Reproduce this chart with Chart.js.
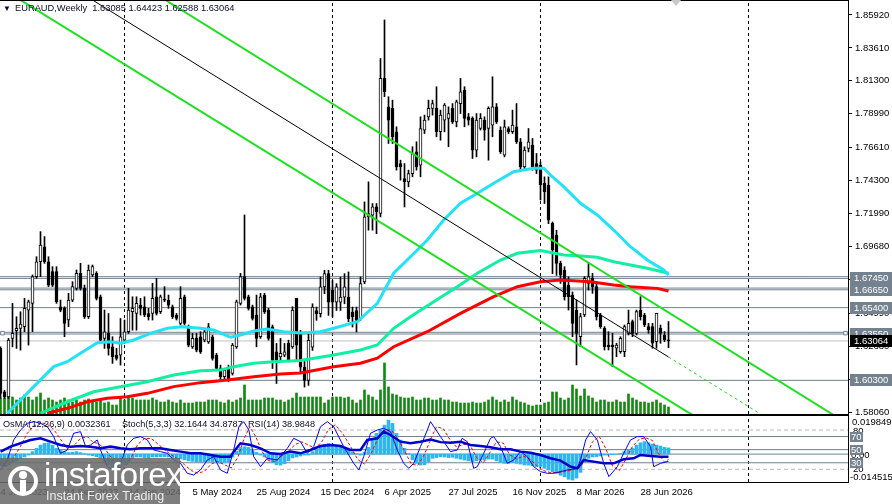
<!DOCTYPE html>
<html>
<head>
<meta charset="utf-8">
<title>EURAUD Weekly</title>
<script src="https://cdn.jsdelivr.net/npm/chart.js@4.4.1/dist/chart.umd.min.js"></script>
<style>
  body { margin: 0; background: #fff; }
  #wrap { position: relative; width: 892px; height: 504px; overflow: hidden; font-family: "Liberation Sans", Arial, sans-serif; }
  canvas { position: absolute; left: 0; }
  #mainChart { top: 0; }
  #oscChart { top: 415px; }
  .txt { position: absolute; font-size: 9.3px; color: #0a0a28; white-space: pre; line-height: 11px; }
  #logo { position: absolute; left: 0; top: 458px; width: 180px; height: 46px; background: rgba(105,105,105,0.86); color: #fff; }
  #logo .big { position: absolute; left: 44px; top: -2px; font-size: 33px; letter-spacing: -0.5px; line-height: 38px; }
  #logo .small { position: absolute; left: 46px; top: 31px; font-size: 12.5px; line-height: 14px; color: #eee; }
  #logo svg { position: absolute; left: 6px; top: 6px; }
  #shift { position: absolute; left: 671px; top: 0; width: 0; height: 0; border-left: 5px solid transparent; border-right: 5px solid transparent; border-top: 6px solid #c8c8c8; }
</style>
</head>
<body>
<div id="wrap">
  <canvas id="mainChart" width="892" height="416"></canvas>
  <canvas id="oscChart" width="892" height="89"></canvas>
  <div class="txt" style="left:3px;top:3px;font-size:8px">▼</div>
  <div class="txt" style="left:15px;top:3px">EURAUD,Weekly  1.63085 1.64423 1.62588 1.63064</div>
  <div class="txt" style="left:3px;top:419px;font-size:9.15px">OsMA(12,26,9) 0.0032361</div>
  <div class="txt" style="left:122px;top:419px;font-size:9.15px">Stoch(5,3,3) 32.1644 34.8787</div>
  <div class="txt" style="left:248px;top:419px;font-size:9.15px">RSI(14) 38.9848</div>
  <div id="shift"></div>
  <div id="logo">
    <svg width="34" height="34" viewBox="0 0 34 34"><circle cx="17" cy="17" r="13" fill="none" stroke="#fff" stroke-width="4"/><circle cx="17" cy="11" r="4" fill="#fff"/><rect x="14" y="16" width="6" height="12" fill="#fff"/></svg>
    <div class="big">instaforex</div>
    <div class="small">Instant Forex Trading</div>
  </div>
</div>
<script>
// weekly candles, bar 0 = week of 4 Jun 2023
const opens = [
  1.6254,1.5950,1.5914,1.6324,1.6378,1.6394,1.6406,1.6523,1.6570,1.6757,
  1.6862,1.6967,1.6862,1.6792,1.6792,1.6546,1.6535,1.6453,1.6593,1.6675,
  1.6780,1.6675,1.6476,1.6769,1.6780,1.6616,1.6324,1.6359,1.6265,1.6207,
  1.6207,1.6312,1.6371,1.6511,1.6499,1.6558,1.6546,1.6499,1.6499,1.6616,
  1.6511,1.6600,1.6593,1.6546,1.6488,1.6429,1.6616,1.6394,1.6265,1.6324,
  1.6336,1.6312,1.6300,1.6336,1.6207,1.6113,1.6055,1.6113,1.6078,1.6265,
  1.6570,1.6757,1.6616,1.6546,1.6488,1.6336,1.6628,1.6523,1.6406,1.6230,
  1.6195,1.6207,1.6289,1.6265,1.6605,1.6357,1.6123,1.6029,1.6263,1.6520,
  1.6497,1.6685,1.6778,1.6661,1.6579,1.6579,1.6614,1.6614,1.6509,1.6520,
  1.6462,1.6720,1.7176,1.7188,1.7246,1.7200,1.8147,1.7948,1.7937,1.7773,
  1.7550,1.7445,1.7422,1.7480,1.7632,1.7539,1.7785,1.7878,1.7937,1.7937,
  1.7773,1.7855,1.7867,1.7937,1.7843,1.7971,1.8066,1.7878,1.7867,1.7644,
  1.7796,1.7855,1.7796,1.7820,1.7948,1.7785,1.7609,1.7796,1.7773,1.7808,
  1.7703,1.7527,1.7656,1.7680,1.7550,1.7540,1.7411,1.7400,1.7131,1.7049,
  1.6850,1.6803,1.6698,1.6628,1.6523,1.6336,1.6488,1.6710,1.6745,1.6687,
  1.6488,1.6395,1.6278,1.6278,1.6255,1.6231,1.6231,1.6360,1.6442,1.6360,
  1.6523,1.6488,1.6407,1.6407,1.6301,1.6395,1.6348,1.63085
];
const highs = [
  1.6265,1.5961,1.6324,1.6570,1.6476,1.6511,1.6605,1.6593,1.6769,1.6897,
  1.7073,1.7038,1.6897,1.6827,1.6827,1.6593,1.6546,1.6640,1.6722,1.6804,
  1.6851,1.6698,1.6839,1.6839,1.6792,1.6628,1.6523,1.6499,1.6336,1.6254,
  1.6464,1.6453,1.6675,1.6616,1.6616,1.6605,1.6616,1.6535,1.6710,1.6745,
  1.6628,1.6687,1.6628,1.6558,1.6499,1.6687,1.6628,1.6418,1.6359,1.6359,
  1.6371,1.6394,1.6429,1.6347,1.6219,1.6137,1.6113,1.6137,1.6289,1.6593,
  1.6780,1.7190,1.6628,1.6558,1.6628,1.6640,1.6640,1.6535,1.6418,1.6289,
  1.6324,1.6289,1.6312,1.6546,1.6605,1.6380,1.6170,1.6357,1.6567,1.6544,
  1.6755,1.6802,1.6802,1.6731,1.6708,1.6755,1.6778,1.6790,1.6544,1.6544,
  1.6755,1.7281,1.7422,1.7270,1.7270,1.8287,1.8557,1.8019,1.7995,1.7808,
  1.7574,1.7550,1.7504,1.7668,1.7703,1.7878,1.7890,1.7995,1.7995,1.8089,
  1.7925,1.7971,1.7948,1.7971,1.7995,1.8147,1.8089,1.7901,1.7878,1.7901,
  1.7901,1.7878,1.7948,1.8159,1.7971,1.7808,1.7855,1.7808,1.7925,1.7971,
  1.7726,1.7668,1.7796,1.7726,1.7621,1.7562,1.7457,1.7457,1.7141,1.7083,
  1.6866,1.6827,1.6756,1.6650,1.6593,1.6500,1.6757,1.6850,1.6780,1.6710,
  1.6500,1.6407,1.6371,1.6360,1.6290,1.6336,1.6418,1.6523,1.6453,1.6523,
  1.6617,1.6500,1.6430,1.6430,1.6500,1.6418,1.6372,1.64423
];
const lows = [
  1.5903,1.5903,1.5903,1.6265,1.6254,1.6242,1.6371,1.6277,1.6371,1.6745,
  1.6757,1.6850,1.6687,1.6687,1.6570,1.6511,1.6336,1.6406,1.6581,1.6663,
  1.6663,1.6464,1.6464,1.6757,1.6593,1.6300,1.6254,1.6207,1.6149,1.6172,
  1.6137,1.6289,1.6359,1.6382,1.6382,1.6488,1.6476,1.6453,1.6453,1.6488,
  1.6499,1.6581,1.6535,1.6464,1.6453,1.6418,1.6418,1.6265,1.6254,1.6230,
  1.6219,1.6300,1.6289,1.6172,1.6102,1.6031,1.6031,1.6020,1.6067,1.6254,
  1.6558,1.6593,1.6523,1.6453,1.6265,1.6324,1.6499,1.6312,1.6113,1.6008,
  1.6172,1.6195,1.6160,1.6254,1.6172,1.6076,1.5983,1.5995,1.6240,1.6451,
  1.6474,1.6638,1.6486,1.6474,1.6520,1.6520,1.6567,1.6440,1.6404,1.6369,
  1.6451,1.6708,1.7083,1.7083,1.7059,1.7176,1.8019,1.7691,1.7691,1.7504,
  1.7434,1.7246,1.7387,1.7457,1.7504,1.7457,1.7761,1.7855,1.7890,1.7738,
  1.7714,1.7773,1.7668,1.7831,1.7808,1.7901,1.7808,1.7820,1.7586,1.7597,
  1.7785,1.7714,1.7574,1.7738,1.7831,1.7621,1.7597,1.7761,1.7761,1.7691,
  1.7504,1.7504,1.7632,1.7504,1.7480,1.7295,1.7270,1.7129,1.6778,1.6766,
  1.6710,1.6593,1.6523,1.6336,1.6138,1.6266,1.6477,1.6663,1.6640,1.6453,
  1.6395,1.6243,1.6243,1.6126,1.6196,1.6220,1.6196,1.6348,1.6336,1.6348,
  1.6453,1.6407,1.6360,1.6255,1.6255,1.6290,1.6301,1.62588
];
const closes = [
  1.5938,1.5914,1.6312,1.6359,1.6394,1.6425,1.6535,1.6581,1.6757,1.6862,
  1.6979,1.6862,1.6698,1.6698,1.6581,1.6523,1.6429,1.6593,1.6687,1.6780,
  1.6675,1.6476,1.6804,1.6827,1.6605,1.6312,1.6371,1.6254,1.6195,1.6184,
  1.6336,1.6371,1.6523,1.6535,1.6570,1.6535,1.6488,1.6476,1.6605,1.6499,
  1.6616,1.6593,1.6558,1.6476,1.6464,1.6605,1.6429,1.6277,1.6324,1.6242,
  1.6230,1.6371,1.6406,1.6184,1.6113,1.6055,1.6102,1.6031,1.6277,1.6581,
  1.6757,1.6605,1.6535,1.6464,1.6324,1.6616,1.6511,1.6324,1.6172,1.6172,
  1.6219,1.6230,1.6172,1.6523,1.6277,1.6123,1.6029,1.6310,1.6544,1.6497,
  1.6685,1.6778,1.6579,1.6579,1.6685,1.6614,1.6685,1.6462,1.6474,1.6451,
  1.6708,1.7176,1.7200,1.7246,1.7211,1.8147,1.8054,1.7855,1.7738,1.7527,
  1.7527,1.7422,1.7480,1.7621,1.7527,1.7796,1.7855,1.7937,1.7971,1.7773,
  1.7890,1.7960,1.7901,1.7843,1.7983,1.8054,1.7867,1.7855,1.7644,1.7855,
  1.7867,1.7785,1.7937,1.7948,1.7843,1.7632,1.7808,1.7773,1.7820,1.7703,
  1.7527,1.7644,1.7703,1.7527,1.7504,1.7400,1.7353,1.7154,1.6944,1.6850,
  1.6768,1.6616,1.6616,1.6430,1.6360,1.6477,1.6745,1.6757,1.6687,1.6477,
  1.6406,1.6266,1.6266,1.6266,1.6278,1.6325,1.6407,1.6430,1.6360,1.6512,
  1.6477,1.6418,1.6383,1.6290,1.6500,1.6360,1.6313,1.63064
];
// tick volume, thousands
const volumesK = [
  16,16,17,17,14,16,19,17,14,17, 21,14,16,14,12,14,16,14,12,14,
  12,14,15,13,12,14,11,12,9,9,   16,14,17,16,14,14,14,14,16,14,
  12,12,14,12,11,14,11,11,11,12, 12,12,14,14,14,12,11,14,12,14,
  16,29,14,14,14,14,16,16,16,14, 14,12,14,16,21,17,17,17,17,17,
  17,11,14,17,17,17,16,17,14,11, 14,24,19,17,14,24,51,27,20,19,
  17,16,16,17,14,14,16,16,14,14, 16,14,14,12,12,11,11,11,12,11,
  11,12,14,17,14,12,14,12,17,14, 12,11,9,8,9,9,11,12,22,22,
  16,14,16,29,25,18,25,18,16,12, 14,14,12,12,14,12,12,20,16,14,
  12,12,11,12,14,11,9,7
];
// moving averages, [bar, price]
const maFast = [[1.7,1.5799],[5,1.5892],[8.3,1.5986],[10.8,1.6056],[13.3,1.6126],[16.7,1.6161],[20,1.6220],[24.2,1.6294],[27.5,1.6301],[30,1.6290],[33.3,1.6313],[37.5,1.6360],[41.7,1.6395],[45.4,1.6406],[50,1.6395],[53.3,1.6383],[57.5,1.6332],[60,1.6348],[63.3,1.6376],[66.7,1.6390],[70.8,1.6371],[75,1.6362],[80,1.6371],[83.3,1.6395],[89.2,1.6441],[94.2,1.6570],[98.3,1.6781],[102.5,1.6897],[106.7,1.7014],[110.8,1.7154],[115,1.7272],[119.2,1.7342],[123.3,1.7412],[128.3,1.7493],[133.3,1.7517],[135.8,1.7517],[137.5,1.7470],[140.8,1.7388],[145,1.7272],[149.2,1.7190],[153.3,1.7084],[157.5,1.6967],[161.7,1.6874],[165.8,1.6804],[167,1.6769]];
const maMid = [[10,1.5799],[16.7,1.5880],[23.3,1.5950],[30,1.5985],[36.7,1.6020],[43.3,1.6067],[50,1.6098],[55,1.6103],[58.3,1.6126],[63.3,1.6150],[68.3,1.6161],[75,1.6169],[83.3,1.6208],[90,1.6243],[94.2,1.6278],[98.3,1.6395],[102.5,1.6476],[108.3,1.6582],[114.2,1.6687],[119.2,1.6781],[125,1.6874],[129.2,1.6921],[135,1.6941],[140.8,1.6909],[145,1.6902],[149.2,1.6893],[153.3,1.6862],[157.5,1.6839],[161.7,1.6816],[167,1.6781]];
const maSlow = [[11.7,1.5799],[16.7,1.5834],[21.7,1.5880],[26.7,1.5904],[31.7,1.5915],[36.7,1.5939],[43.3,1.5986],[50,1.6014],[56.7,1.6033],[63.3,1.6056],[70,1.6075],[75,1.6082],[83.3,1.6126],[90,1.6150],[94.2,1.6185],[98.3,1.6266],[106.7,1.6371],[115,1.6500],[123.3,1.6617],[129.2,1.6687],[135,1.6722],[140,1.6734],[147.5,1.6722],[153.3,1.6699],[157.5,1.6687],[164.2,1.6675],[167,1.6657]];
// drawn trend lines, [bar, price]
const channelLow = [[4,1.8714],[173,1.5787]];
const channelHigh = [[41,1.8701],[208,1.5792]];
const midLine = [[23,1.8697],[167,1.6194]];
const midLineExt = [[167,1.6194],[190,1.5794]];
const levelLines = [1.6757,1.6745,1.6677,1.6665,1.6540,1.6367,1.6355,1.6030];
const levelTags = [1.6745,1.6665,1.6540,1.6355,1.6030];
const anchorMarks = [[0.5,1.6361],[211.25,1.6361]];
const lastPrice = 1.63064;
const priceTicks = [1.8592,1.8361,1.8130,1.7899,1.7661,1.7430,1.7199,1.6968,1.6737,1.6499,1.6268,1.6037,1.5806];

// oscillators
const osma = [
  -0.0060,-0.0065,-0.0055,-0.0045,-0.0035,-0.0025,-0.0015,-0.0005,0.0013,0.0030,
  0.0047,0.0056,0.0059,0.0047,0.0030,0.0021,0.0013,0.0008,0.0010,0.0013,
  0.0008,0.0002,-0.0005,-0.0008,-0.0013,-0.0025,-0.0040,-0.0055,-0.0065,-0.0070,
  -0.0065,-0.0055,-0.0040,-0.0025,-0.0015,-0.0015,-0.0018,-0.0020,-0.0015,-0.0015,
  -0.0013,-0.0013,-0.0015,-0.0020,-0.0022,-0.0025,-0.0030,-0.0035,-0.0038,-0.0040,
  -0.0042,-0.0040,-0.0038,-0.0040,-0.0045,-0.0048,-0.0045,-0.0040,-0.0015,0.0015,
  0.0035,0.0039,0.0035,0.0025,0.0010,-0.0005,-0.0015,-0.0030,-0.0045,-0.0055,
  -0.0057,-0.0050,-0.0035,-0.0020,-0.0015,-0.0010,-0.0005,-0.0005,0.0013,0.0025,
  0.0040,0.0052,0.0056,0.0052,0.0047,0.0039,0.0030,0.0020,0.0010,0.0003,
  -0.0005,0.0010,0.0035,0.0073,0.0108,0.0125,0.0151,0.0177,0.0160,0.0108,
  0.0073,0.0030,0.0004,-0.0030,-0.0048,-0.0057,-0.0055,-0.0040,-0.0022,-0.0018,
  -0.0013,-0.0015,-0.0018,-0.0017,-0.0022,-0.0026,-0.0031,-0.0035,-0.0039,-0.0035,
  -0.0031,-0.0031,-0.0026,-0.0026,-0.0035,-0.0044,-0.0048,-0.0048,-0.0044,-0.0048,
  -0.0052,-0.0057,-0.0057,-0.0061,-0.0065,-0.0065,-0.0074,-0.0083,-0.0092,-0.0100,
  -0.0110,-0.0118,-0.0131,-0.0135,-0.0125,-0.0095,-0.0039,-0.0022,-0.0015,-0.0013,
  -0.0009,-0.0005,-0.0005,-0.0003,-0.0001,0.0004,0.0013,0.0021,0.0030,0.0047,
  0.0059,0.0065,0.0059,0.0052,0.0047,0.0042,0.0035,0.0032361
];
const stochMain = [[0,19],[1.7,34.2],[3.3,64.8],[5,80],[6.7,90.2],[8.3,92.8],[10,90.2],[11.7,85.1],[13.3,69.9],[15,44.4],[16.7,49.5],[18.3,75],[20,77.5],[21.3,54.6],[22.5,57.1],[24.2,64.8],[25,49.5],[26.7,24],[28.3,19],[30,29.1],[31.7,57.1],[33.3,67.3],[35,69.9],[36.7,64.8],[38.3,49.5],[40,47],[41.7,44.4],[43.3,34.2],[45,29.1],[46.7,13.9],[48.3,11.3],[50,19],[51.7,34.2],[53.3,39.3],[55,19],[56.7,13.9],[58.3,49.5],[59.6,85.1],[60.8,92.8],[62.1,80],[63.3,39.3],[65,24],[66.7,36.8],[69.2,34.2],[71.7,52],[73.3,67.3],[75,62.2],[76.7,44.4],[78.3,54.6],[80,85.1],[81.7,92.8],[83.3,85.1],[85.8,54.6],[88.3,29.1],[89.6,19],[90.8,39.3],[92.5,75],[94.2,80],[95.8,82.6],[97.5,77.5],[99.2,49.5],[100.8,29.1],[102.1,21.5],[103.3,29.1],[105,54.6],[106.7,80],[107.5,92.8],[110,69.9],[112.5,47],[114.2,49.5],[115.4,67.3],[116.7,62.2],[118.3,21.5],[119.2,24],[120.8,44.4],[122.5,67.3],[123.3,69.9],[125,54.6],[126.7,29.1],[128.3,34.2],[130,47],[131.7,39.3],[133.3,24],[135,16.4],[136.7,13.9],[138.3,13.9],[141.7,19],[144.2,21.5],[145,34.2],[146.3,64.8],[147.5,77.5],[149.2,64.8],[150.8,29.1],[152.1,8.8],[154.2,24],[155.8,44.4],[157.5,64.8],[159.2,69.9],[160.8,69.9],[162.5,54.6],[163.3,24],[165,29.1],[167,32.16]];
const stochSignal = [[0,30],[1.5,25],[3,35],[5,55],[6.7,75],[8.3,86],[10,91],[11.7,89],[13.3,81],[15,66],[16.7,52],[18.3,56],[20,67],[21.7,70],[23,62],[24.5,59],[26,52],[27.7,38],[29.3,23],[31,22],[32.7,38],[34.3,58],[36,67],[37.7,67],[39.3,59],[41,50],[42.7,42],[44.3,36],[46,27],[47.7,18],[49.3,14],[51,17],[52.7,28],[54.3,32],[56,27],[57.7,22],[59.3,38],[60.8,65],[62.3,85],[63.8,70],[65.3,48],[67,33],[68.7,32],[70.3,40],[72,48],[73.7,58],[75.3,62],[77,57],[78.7,52],[80.3,62],[82,81],[83.7,88],[85.5,75],[87.5,55],[89.3,35],[91,28],[92.7,45],[94.3,66],[96,80],[97.7,80],[99.3,67],[101,48],[102.7,28],[104.3,26],[106,43],[107.7,68],[109,85],[110.7,82],[112.3,66],[114,54],[115.7,58],[117.3,58],[119,38],[120.7,30],[122.3,45],[124,62],[125.7,60],[127.3,42],[129,36],[130.7,40],[132.3,36],[134,26],[135.7,18],[137.5,15],[140,15],[143,19],[145,23],[146.5,40],[148,62],[149.7,70],[151.3,52],[153,25],[154.7,18],[156.3,35],[158,55],[159.7,66],[161.3,68],[163,64],[164.5,44],[166,31],[167,34.88]];
const rsi = [[0,47],[2.5,54.6],[5,59.7],[7.5,64.8],[10,67.3],[12.5,62.2],[15,57.1],[17.5,54.6],[20,55.6],[22.5,54.6],[25,52],[27.5,54.6],[30,52],[32.5,50.5],[35,52],[40,52],[42.5,49.5],[45,47],[47.5,44.4],[50,44.4],[52.5,41.9],[55,39.3],[57.5,39.3],[58.3,47],[60,59.7],[62.5,57.1],[65,52],[67.5,44.4],[70,43.4],[72.5,47],[75,44.4],[77.5,49.5],[80,55.6],[82.5,57.1],[85,55.6],[87.5,49.5],[90,49.5],[91.7,64.8],[94.2,67.3],[95.8,77.5],[97.5,72.4],[100,62.2],[102.5,59.7],[105,62.2],[107.5,65.3],[110,61.5],[112.5,60.7],[115,62.2],[117.5,57.1],[120,55.6],[122.5,53.6],[125,50.5],[127.5,50.5],[130,47],[132.5,45.4],[135,41.9],[137.5,36.8],[140,33.2],[142.5,24],[144.2,21.5],[145.8,34.2],[148.3,31.7],[150.8,29.1],[153.3,29.1],[155.8,35.2],[158.3,36.8],[160,41.9],[162.5,40.3],[165,39.3],[167,38.98]];

const yearStarts = [31, 83, 135, 187];
const tickIndex = [0,16,32,48,64,80,96,112,128,144,160];
const tickLabels = ['4 Jun 2023','24 Sep 2023','14 Jan 2024','5 May 2024','25 Aug 2024','15 Dec 2024','6 Apr 2025','27 Jul 2025','16 Nov 2025','8 Mar 2026','28 Jun 2026'];

Chart.defaults.font.family = '"Liberation Sans", Arial, sans-serif';
Chart.defaults.font.size = 9.5;
Chart.defaults.color = '#000';

const X_MIN = -0.125, X_MAX = 211.875;
const P_MIN = 1.57941, P_MAX = 1.86971;
const GREEN = '#1fe01f';
const LEVEL = '#708090';

const pts = arr => arr.map(([x, y]) => ({x, y}));
const hlines = vals => vals.flatMap(v => [{x: X_MIN, y: v}, {x: X_MAX, y: v}, {x: X_MAX, y: null}]);
const vlines = (lo, hi) => yearStarts.flatMap(i => [{x: i, y: lo}, {x: i, y: hi}, {x: i, y: null}]);
const bars = closes.map((c, i) => i);

function lineDs(data, color, width, order, extra) {
  return Object.assign({type: 'line', data, borderColor: color, borderWidth: width, pointRadius: 0,
    tension: 0, spanGaps: false, order}, extra || {});
}

const frameA = {
  id: 'frameA',
  afterDraw(chart) {
    const {ctx, chartArea: a} = chart;
    ctx.save();
    ctx.fillStyle = '#000';
    ctx.fillRect(0, 0, a.right + 1, 1);
    ctx.fillRect(0, a.bottom, a.right + 1, 1);
    ctx.restore();
  }
};

const priceTags = {
  id: 'priceTags',
  afterDraw(chart) {
    const {ctx, scales: {y}} = chart;
    ctx.save();
    ctx.font = '9.5px "Liberation Sans", Arial, sans-serif';
    ctx.textBaseline = 'middle';
    const tag = (p, bg) => {
      const py = Math.round(y.getPixelForValue(p));
      ctx.fillStyle = bg;
      ctx.fillRect(850, py - 6, 42, 12);
      ctx.fillStyle = '#fff';
      ctx.fillText(p.toFixed(5), 854, py + 0.5);
    };
    levelTags.forEach(p => tag(p, '#74818f'));
    tag(lastPrice, '#000');
    ctx.restore();
  }
};

new Chart(document.getElementById('mainChart'), {
  type: 'bar',
  data: {
    datasets: [
      lineDs(pts(channelLow), GREEN, 2, 1),
      lineDs(pts(channelHigh), GREEN, 2, 1),
      lineDs(pts(midLine), '#000', 1, 1),
      lineDs(pts(midLineExt), GREEN, 1, 1, {borderDash: [3, 3]}),
      lineDs(pts(maFast), '#22e2f6', 3, 2),
      lineDs(pts(maMid), '#10f0a0', 3, 2),
      lineDs(pts(maSlow), '#ff0000', 3, 2),
      {
        type: 'bar', order: 3, grouped: false, barThickness: 3, minBarLength: 1,
        data: bars.map(i => ({x: i, y: [opens[i], closes[i]]})),
        backgroundColor: bars.map(i => closes[i] >= opens[i] ? '#ffffff' : '#000000'),
        borderColor: '#000', borderWidth: 1, borderSkipped: false
      },
      {
        type: 'bar', order: 4, grouped: false, barThickness: 1,
        data: bars.map(i => ({x: i, y: [lows[i], highs[i]]})),
        backgroundColor: '#000', borderWidth: 0
      },
      lineDs(pts(anchorMarks), 'transparent', 0, 5, {showLine: false, pointRadius: 2.5,
        pointStyle: 'rect', pointBackgroundColor: '#fff', pointBorderColor: LEVEL, pointBorderWidth: 1}),
      lineDs(hlines([lastPrice]), '#c0c0c0', 1, 5),
      lineDs(hlines(levelLines), LEVEL, 1, 6),
      {
        type: 'bar', order: 7, grouped: false, barThickness: 2, yAxisID: 'yv',
        data: volumesK.map((v, i) => ({x: i, y: v})),
        backgroundColor: '#138a13', borderWidth: 0
      },
      lineDs(vlines(P_MIN, P_MAX), '#000', 1, 8, {borderDash: [3, 3]})
    ]
  },
  options: {
    responsive: false,
    animation: false,
    events: [],
    layout: {autoPadding: false, padding: {top: 0, bottom: 2, left: 0, right: 0}},
    plugins: {legend: {display: false}, tooltip: {enabled: false}},
    scales: {
      x: {type: 'linear', min: X_MIN, max: X_MAX, offset: false, display: false},
      y: {
        position: 'right', min: P_MIN, max: P_MAX, bounds: 'data',
        afterBuildTicks: s => { s.ticks = priceTicks.map(v => ({value: v})); },
        afterFit: s => { s.width = 44; s.paddingTop = 0; s.paddingBottom = 0; },
        ticks: {autoSkip: false, padding: 3, color: '#000', callback: v => v.toFixed(5)},
        grid: {drawOnChartArea: false, tickLength: 4, color: '#000'},
        border: {color: '#000', width: 1}
      },
      yv: {display: false, min: 0, max: 414}
    }
  },
  plugins: [frameA, priceTags]
});

const oscFrame = {
  id: 'oscFrame',
  afterDraw(chart) {
    const {ctx, chartArea: a, scales: {ys, yo}} = chart;
    ctx.save();
    ctx.fillStyle = '#000';
    ctx.fillRect(0, 0, a.right + 1, 1);
    ctx.fillRect(0, a.bottom, a.right + 1, 1);
    ctx.fillRect(a.right, 0, 1, a.bottom + 1);
    ctx.font = '9.5px "Liberation Sans", Arial, sans-serif';
    ctx.textBaseline = 'middle';
    ctx.fillText('0.0198491', 852, 7);
    ctx.fillText('-0.014515', 850, a.bottom - 5);
    ctx.fillText('80', 853, ys.getPixelForValue(80) + 1);
    ctx.fillText('20', 853, ys.getPixelForValue(20));
    ctx.fillText('0.00', 851, yo.getPixelForValue(0) + 1);
    [70, 50, 30].forEach(v => {
      const py = Math.round(ys.getPixelForValue(v));
      ctx.fillStyle = '#74818f';
      ctx.fillRect(850, py - 5, 13, 10);
      ctx.fillStyle = '#fff';
      ctx.fillText(String(v), 851, py + 0.5);
    });
    ctx.restore();
  }
};

new Chart(document.getElementById('oscChart'), {
  type: 'bar',
  data: {
    datasets: [
      lineDs(pts(rsi), '#0000cd', 2.5, 1, {yAxisID: 'ys'}),
      lineDs(pts(stochMain), '#0000ff', 1, 2, {yAxisID: 'ys'}),
      lineDs(pts(stochSignal), '#ff0000', 1, 3, {yAxisID: 'ys', borderDash: [3, 2]}),
      {
        type: 'bar', order: 5, grouped: false, barThickness: 3, yAxisID: 'yo',
        data: osma.map((v, i) => ({x: i, y: v})),
        backgroundColor: '#30b6ef', borderWidth: 0
      },
      lineDs(hlines([70, 50, 30]), LEVEL, 1, 6, {yAxisID: 'ys'}),
      lineDs(hlines([0]), LEVEL, 1, 6, {yAxisID: 'yo'}),
      lineDs(hlines([80, 20]), '#b8b8b8', 1, 6, {yAxisID: 'ys', borderDash: [4, 3]}),
      lineDs(vlines(0.6, 101.4), '#000', 1, 7, {yAxisID: 'ys', borderDash: [3, 3]})
    ]
  },
  options: {
    responsive: false,
    animation: false,
    events: [],
    layout: {autoPadding: false, padding: {top: 1, bottom: 0, left: 0, right: 44}},
    plugins: {legend: {display: false}, tooltip: {enabled: false}},
    scales: {
      x: {
        type: 'linear', min: X_MIN, max: X_MAX, offset: false,
        afterBuildTicks: s => { s.ticks = tickIndex.map(v => ({value: v})); },
        afterFit: s => { s.height = 22; s.paddingLeft = 0; s.paddingRight = 0; },
        ticks: {autoSkip: false, maxRotation: 0, align: 'start', padding: 5, color: '#000',
          callback: (v, k) => tickLabels[k]},
        grid: {display: false, drawTicks: false},
        border: {display: false}
      },
      ys: {display: false, min: 0.6, max: 101.4},
      yo: {display: false, min: -0.014515, max: 0.0198491}
    }
  },
  plugins: [oscFrame]
});
</script>
</body>
</html>
